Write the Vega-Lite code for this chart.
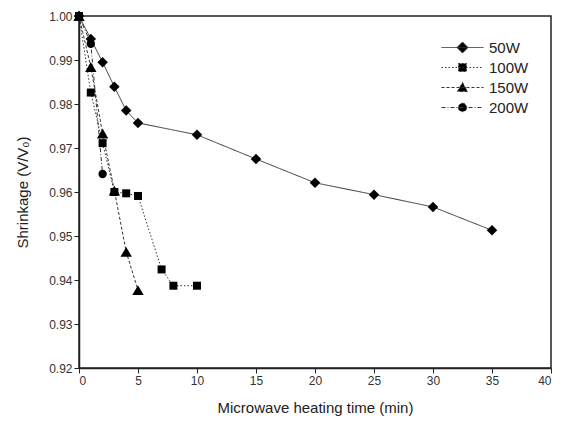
{
  "$schema": "https://vega.github.io/schema/vega-lite/v6.json",
  "width": 472,
  "height": 352,
  "autosize": "none",
  "padding": {"left": 79, "top": 16, "right": 17, "bottom": 55},
  "background": "white",
  "config": {
    "font": "Liberation Sans",
    "view": {"stroke": "#222", "strokeWidth": 1.5},
    "axis": {"grid": false, "domainColor": "#222", "tickColor": "#222", "labelColor": "#333", "titleColor": "#222", "labelFontSize": 12, "titleFontSize": 15, "titleFontWeight": "normal", "tickSize": 5, "domainWidth": 1.5}
  },
  "data": {"values": [
    {"t": 0, "v": 1.0, "p": "50W"},
    {"t": 1, "v": 0.9948, "p": "50W"},
    {"t": 2, "v": 0.9895, "p": "50W"},
    {"t": 3, "v": 0.9839, "p": "50W"},
    {"t": 4, "v": 0.9785, "p": "50W"},
    {"t": 5, "v": 0.9757, "p": "50W"},
    {"t": 10, "v": 0.973, "p": "50W"},
    {"t": 15, "v": 0.9675, "p": "50W"},
    {"t": 20, "v": 0.9621, "p": "50W"},
    {"t": 25, "v": 0.9594, "p": "50W"},
    {"t": 30, "v": 0.9566, "p": "50W"},
    {"t": 35, "v": 0.9513, "p": "50W"},
    {"t": 0, "v": 1.0, "p": "100W"},
    {"t": 1, "v": 0.9826, "p": "100W"},
    {"t": 2, "v": 0.9711, "p": "100W"},
    {"t": 3, "v": 0.9600, "p": "100W"},
    {"t": 4, "v": 0.9597, "p": "100W"},
    {"t": 5, "v": 0.9591, "p": "100W"},
    {"t": 7, "v": 0.9424, "p": "100W"},
    {"t": 8, "v": 0.9387, "p": "100W"},
    {"t": 10, "v": 0.9387, "p": "100W"},
    {"t": 0, "v": 1.0, "p": "150W"},
    {"t": 1, "v": 0.9884, "p": "150W"},
    {"t": 2, "v": 0.9733, "p": "150W"},
    {"t": 3, "v": 0.9603, "p": "150W"},
    {"t": 4, "v": 0.9464, "p": "150W"},
    {"t": 5, "v": 0.9377, "p": "150W"},
    {"t": 0, "v": 1.0, "p": "200W"},
    {"t": 1, "v": 0.9937, "p": "200W"},
    {"t": 2, "v": 0.9641, "p": "200W"}
  ]},
  "encoding": {
    "x": {"field": "t", "type": "quantitative", "scale": {"domain": [0, 40], "nice": false}, "axis": {"values": [0, 5, 10, 15, 20, 25, 30, 35, 40], "title": "Microwave heating time (min)", "titlePadding": 14}},
    "y": {"field": "v", "type": "quantitative", "scale": {"domain": [0.92, 1.0], "nice": false, "zero": false}, "axis": {"values": [0.92, 0.93, 0.94, 0.95, 0.96, 0.97, 0.98, 0.99, 1.0], "format": ".2f", "title": "Shrinkage (V/V₀)", "titlePadding": 18}}
  },
  "layer": [
    {
      "mark": {"type": "line", "stroke": "#333", "strokeWidth": 1},
      "encoding": {
        "detail": {"field": "p"},
        "strokeDash": {"field": "p", "type": "nominal", "scale": {"domain": ["50W", "100W", "150W", "200W"], "range": [[1, 0], [1.5, 2], [3, 2], [4, 2, 1, 2]]}, "legend": null}
      }
    },
    {
      "mark": {"type": "point", "filled": true, "fill": "#000", "opacity": 1},
      "encoding": {
        "shape": {"field": "p", "type": "nominal", "scale": {"domain": ["50W", "100W", "150W", "200W"], "range": ["diamond", "square", "triangle-up", "circle"]}, "legend": null},
        "size": {"field": "p", "type": "nominal", "scale": {"type": "ordinal", "domain": ["50W", "100W", "150W", "200W"], "range": [110, 64, 130, 70]}, "legend": null}
      }
    },
    {
      "mark": {"type": "point", "filled": true, "fill": "#000", "opacity": 0, "size": 30},
      "encoding": {
        "color": {"field": "p", "type": "nominal", "scale": {"domain": ["50W", "100W", "150W", "200W"], "range": ["#000", "#000", "#000", "#000"]},
          "legend": {"title": null, "orient": "none", "legendX": 373, "legendY": 21, "padding": 0, "labelFontSize": 15, "labelColor": "#222", "symbolSize": 400, "symbolOpacity": 1, "symbolStrokeWidth": 1, "rowPadding": 1, "labelOffset": 16,
            "encode": {"symbols": {"update": {
              "shape": {"signal": "datum.value=='50W' ? 'M-2.1,0L2.1,0M0,-0.55L0.55,0L0,0.55L-0.55,0Z' : datum.value=='100W' ? 'M-2.1,0L2.1,0M-0.4,-0.4L0.4,-0.4L0.4,0.4L-0.4,0.4Z' : datum.value=='150W' ? 'M-2.1,0L2.1,0M0,-0.5L0.5,0.4L-0.5,0.4Z' : 'M-2.1,0L2.1,0M0.42,0A0.42,0.42,0,1,1,-0.42,0A0.42,0.42,0,1,1,0.42,0Z'"},
              "strokeDash": {"signal": "datum.value=='50W' ? [1,0] : datum.value=='100W' ? [1.5,2] : datum.value=='150W' ? [3,2] : [4,2,1,2]"},
              "stroke": {"value": "#333"},
              "fill": {"value": "#000"},
              "opacity": {"value": 1}
            }}}
          }
        }
      }
    }
  ],
  "resolve": {"scale": {"color": "independent"}}
}
